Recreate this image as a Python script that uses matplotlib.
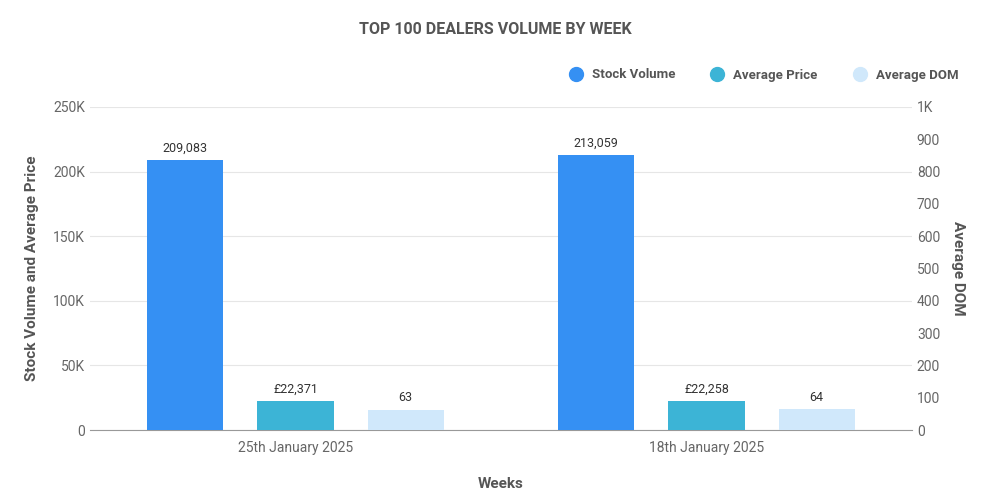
import matplotlib
matplotlib.use("Agg")
import matplotlib.pyplot as plt
from matplotlib.ticker import FuncFormatter
import numpy as np

plt.rcParams["font.family"] = "Roboto"

weeks = ["25th January 2025", "18th January 2025"]
stock_volume = [209083, 213059]
average_price = [22371, 22258]
average_dom = [63, 64]

c_stock = "#3590f3"
c_price = "#3cb4d6"
c_dom = "#d0e8fb"

fig = plt.figure(figsize=(10, 5), dpi=100)
ax = fig.add_axes([0.09, 0.14, 0.822, 0.646])
ax2 = ax.twinx()

x = np.arange(len(weeks))
w = 0.185
off = 0.268
b1 = ax.bar(x - off, stock_volume, w, color=c_stock, label="Stock Volume", zorder=3)
b2 = ax.bar(x, average_price, w, color=c_price, label="Average Price", zorder=3)
b3 = ax2.bar(x + off, average_dom, w, color=c_dom, label="Average DOM", zorder=3)

for r, v in zip(b1, stock_volume):
    ax.text(r.get_x() + w / 2, v + 4000, f"{v:,}", ha="center", va="bottom", fontsize=9, color="#333333")
for r, v in zip(b2, average_price):
    ax.text(r.get_x() + w / 2, v + 4000, f"£{v:,}", ha="center", va="bottom", fontsize=9, color="#333333")
for r, v in zip(b3, average_dom):
    ax2.text(r.get_x() + w / 2, v + 16, f"{v}", ha="center", va="bottom", fontsize=9, color="#333333")

ax.set_xlim(-0.5, 1.5)
ax.set_ylim(0, 250000)
ax2.set_ylim(0, 1000)
ax.set_yticks(np.arange(0, 250001, 50000))
ax.yaxis.set_major_formatter(FuncFormatter(lambda v, p: "0" if v == 0 else f"{int(v/1000)}K"))
ax2.set_yticks(np.arange(0, 1001, 100))
ax2.yaxis.set_major_formatter(FuncFormatter(lambda v, p: "1K" if v == 1000 else f"{int(v)}"))
ax.set_xticks(x)
ax.set_xticklabels(weeks)

ax.grid(axis="y", color="#e6e6e6", linewidth=0.8, zorder=0)
for a in (ax, ax2):
    for s in a.spines.values():
        s.set_visible(False)
    a.tick_params(length=0, colors="#666666", labelsize=10)
ax.spines["bottom"].set_visible(True)
ax.spines["bottom"].set_color("#999999")
ax.tick_params(axis="x", pad=8)

ax.set_xlabel("Weeks", fontsize=11, fontweight="bold", color="#555555", labelpad=16)
ax.set_ylabel("Stock Volume and Average Price", fontsize=11, fontweight="bold", color="#555555", labelpad=10)
ax2.set_ylabel("Average DOM", fontsize=11, fontweight="bold", color="#555555", rotation=270, labelpad=18)

fig.text(0.495, 0.94, "TOP 100 DEALERS VOLUME BY WEEK", ha="center", va="center",
         fontsize=11.5, fontweight="bold", color="#555555")

handles = [b1, b2, b3]
leg = fig.legend(handles=[plt.Line2D([], [], marker="o", linestyle="", markersize=10, color=c)
                          for c in (c_stock, c_price, c_dom)],
                 labels=["Stock Volume", "Average Price", "Average DOM"],
                 loc="center right", bbox_to_anchor=(0.97, 0.85), ncol=3, frameon=False,
                 fontsize=9.5, handletextpad=0.2, columnspacing=2.2)
for t in leg.get_texts():
    t.set_color("#555555")
    t.set_fontweight("bold")

fig.savefig("out.png", dpi=100)
